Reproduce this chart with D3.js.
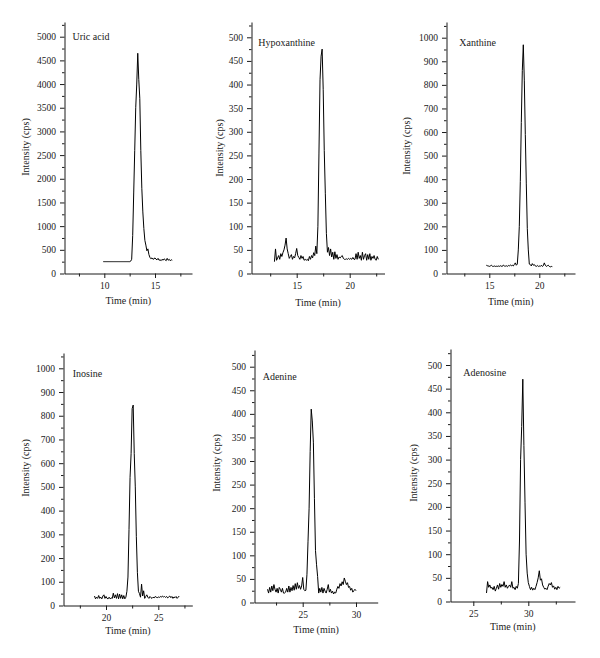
<!DOCTYPE html>
<html><head><meta charset="utf-8">
<script src="https://cdn.jsdelivr.net/npm/d3@7/dist/d3.min.js"></script>
<style>
body{margin:0;background:#fff}
text{font-family:"Liberation Serif","Times New Roman",serif;fill:#1a1a1a}
</style>
</head><body>
<svg id="chart" width="600" height="658"></svg>
<script>
// ---------------- DATA ----------------
const compounds = ["Uric acid","Hypoxanthine","Xanthine","Inosine","Adenine","Adenosine"];
const startTimes = [9.9, 12.9, 14.7, 18.9, 21.7, 26.2];   // min
const timeStep = 0.1;                                    // min between samples

const uricAcid = [250,250,250,250,250,250,250,250,250,250,250,250,250,250,250,250,250,250,250,250,250,250,250,250,250,250,250,
  260,300,800,1700,2600,3500,4000,4650,4100,3700,2600,1800,1300,950,700,600,480,520,400,340,310,330,300,310,
  330,300,290,320,280,290,270,300,280,310,290,270,320,280,300,270,290,280];
const hypoxanthine = [25,52,28,33,38,30,42,36,44,50,60,75,52,42,32,36,40,30,36,33,42,53,38,34,30,38,32,36,28,30,
  28,30,27,36,30,38,33,44,38,58,42,100,255,410,460,475,390,260,170,85,45,55,38,52,35,45,30,46,32,40,
  30,35,33,36,38,32,30,30,31,30,32,30,32,30,34,30,30,42,30,45,32,38,28,45,30,38,42,28,40,30,
  42,28,36,32,38,30,28,36,30];
const xanthine = [35,33,32,30,32,35,31,30,32,30,31,30,32,30,33,31,30,36,32,31,33,30,34,32,36,33,35,32,38,45,
  35,40,100,200,390,640,860,970,820,590,380,190,100,40,38,32,42,35,38,32,30,34,30,32,30,35,30,33,45,35,
  30,33,35,30,28,30,29];
const inosine = [40,28,35,30,42,30,35,28,40,45,30,38,30,28,35,28,32,30,52,32,45,30,50,28,48,30,45,28,42,28,
  35,60,120,320,540,640,830,845,640,500,290,140,60,50,35,90,40,62,30,38,45,35,30,38,33,30,35,32,38,35,
  33,36,34,38,35,40,36,38,34,38,32,36,40,33,38,30,36,33,38,30,35,40];
const adenine = [28,20,32,22,35,25,38,28,22,30,20,32,28,22,30,20,20,22,30,22,35,22,32,25,36,26,40,28,42,30,
  36,28,35,53,28,25,26,60,130,200,320,410,385,340,220,110,80,55,20,30,22,32,20,30,24,20,28,38,22,28,
  20,24,18,22,20,28,34,30,40,35,44,38,52,45,38,42,32,34,26,30,22,25,28,25];
const adenosine = [18,42,30,35,28,30,25,32,22,28,35,26,38,30,36,32,42,30,35,28,32,35,30,42,28,30,25,32,28,38,
  130,300,370,470,330,210,100,60,40,32,25,30,24,28,25,32,40,50,65,45,48,35,30,26,28,25,32,38,35,40,
  30,33,26,30,25,32,28,30];
const series = [uricAcid, hypoxanthine, xanthine, inosine, adenine, adenosine];

const yTickValues = [
  [0,500,1000,1500,2000,2500,3000,3500,4000,4500,5000],
  [0,50,100,150,200,250,300,350,400,450,500],
  [0,100,200,300,400,500,600,700,800,900,1000],
  [0,100,200,300,400,500,600,700,800,900,1000],
  [0,50,100,150,200,250,300,350,400,450,500],
  [0,50,100,150,200,250,300,350,400,450,500]
];
const yMinorStep = [250, 25, 50, 50, 25, 25];
const xTickValues = [[10,15],[15,20],[15,20],[20,25],[25,30],[25,30]];
const xMinorValues = [[7.5,12.5,17.5],[12.5,17.5,22.5],[12.5,17.5,22.5],[17.5,22.5,27.5],[22.5,27.5],[27.5,32.5]];
const xLabel = "Time (min)";
const yLabel = "Intensity (cps)";

// ---------------- LAYOUT (pixel geometry per panel) ----------------
// ax: y-axis x, ar: x-axis right end, tp: pixel of the two x ticks, y0: zero line, yM: pixel of top major tick, top: axis top
const layout = [
  {ax:64.5, ar:192, tp:[104.3,155],  y0:273.5, yM:36.7,  top:22,  title:[72.5,40],   ylab:25,    ylabY:147, xlabY:303.5},
  {ax:251.5,ar:384.5,tp:[296.7,349.7],y0:273.5, yM:37.3,  top:22,  title:[258.3,45.5],ylab:219.5, ylabY:148, xlabY:306},
  {ax:446.5,ar:575, tp:[489.3,539.3],y0:273.5, yM:37.7,  top:22,  title:[459.3,46],  ylab:406.5, ylabY:146, xlabY:304.5},
  {ax:63.5, ar:192.3,tp:[106,158.3],  y0:605.5, yM:368.3, top:353, title:[72.7,377],  ylab:25,    ylabY:468, xlabY:633.5},
  {ax:254.5,ar:377.7,tp:[302.7,356],  y0:602.5, yM:366.7, top:350, title:[262.7,379.5],ylab:216.5, ylabY:463, xlabY:633},
  {ax:450.5,ar:575, tp:[473.3,528.3],y0:601.5, yM:365,   top:349, title:[463.3,375.5],ylab:413.5, ylabY:473, xlabY:630}
];

const svg = d3.select("#chart");
const ink = "#1a1a1a";

compounds.forEach((name, k) => {
  const L = layout[k];
  const vals = series[k];
  const ticks = yTickValues[k];
  const yMax = ticks[ticks.length - 1];

  // x scale calibrated from the two major ticks, then extended to the axis ends
  const xs0 = d3.scaleLinear().domain(xTickValues[k]).range(L.tp);
  const x = d3.scaleLinear().domain([xs0.invert(L.ax), xs0.invert(L.ar)]).range([L.ax, L.ar]);
  // y scale calibrated from 0 and the top major tick, extended to the axis top
  const ys0 = d3.scaleLinear().domain([0, yMax]).range([L.y0, L.yM]);
  const y = d3.scaleLinear().domain([0, ys0.invert(L.top)]).range([L.y0, L.top]);

  const g = svg.append("g");

  // minor y ticks
  const yMinor = d3.range(yMinorStep[k], y.domain()[1], yMinorStep[k] * 2);
  g.append("g").attr("transform", `translate(${L.ax},0)`)
    .call(d3.axisLeft(y).tickValues(yMinor).tickSize(2.5).tickSizeOuter(0).tickFormat(""))
    .call(s => s.select(".domain").remove())
    .call(s => s.selectAll("line").attr("stroke", ink));
  // major y axis
  g.append("g").attr("transform", `translate(${L.ax},0)`)
    .call(d3.axisLeft(y).tickValues(ticks).tickSize(4.5).tickSizeOuter(0).tickPadding(4).tickFormat(d3.format("d")))
    .call(s => s.select(".domain").attr("stroke", ink))
    .call(s => s.selectAll("line").attr("stroke", ink))
    .call(s => s.selectAll("text").style("font-size", "9.5px").attr("fill", ink));

  // minor x ticks
  g.append("g").attr("transform", `translate(0,${L.y0})`)
    .call(d3.axisBottom(x).tickValues(xMinorValues[k]).tickSize(3).tickSizeOuter(0).tickFormat(""))
    .call(s => s.select(".domain").remove())
    .call(s => s.selectAll("line").attr("stroke", ink));
  // major x axis
  g.append("g").attr("transform", `translate(0,${L.y0})`)
    .call(d3.axisBottom(x).tickValues(xTickValues[k]).tickSize(4.5).tickSizeOuter(0).tickPadding(4))
    .call(s => s.select(".domain").attr("stroke", ink))
    .call(s => s.selectAll("line").attr("stroke", ink))
    .call(s => s.selectAll("text").style("font-size", "9.5px").attr("fill", ink));

  // chromatogram trace
  const line = d3.line()
    .x((d, i) => x(startTimes[k] + i * timeStep))
    .y(d => y(d));
  g.append("path").datum(vals)
    .attr("d", line)
    .attr("fill", "none")
    .attr("stroke", "#000")
    .attr("stroke-width", 1)
    .attr("stroke-linejoin", "miter");

  // labels
  g.append("text").attr("x", L.title[0]).attr("y", L.title[1])
    .style("font-size", "10px").text(name);
  g.append("text")
    .attr("transform", `translate(${L.ylab},${L.ylabY}) rotate(-90)`)
    .attr("text-anchor", "middle").attr("dy", "0.35em")
    .style("font-size", "10px").text(yLabel);
  g.append("text").attr("x", (L.ax + L.ar) / 2).attr("y", L.xlabY)
    .attr("text-anchor", "middle")
    .style("font-size", "10px").text(xLabel);
});
</script>
</body></html>
